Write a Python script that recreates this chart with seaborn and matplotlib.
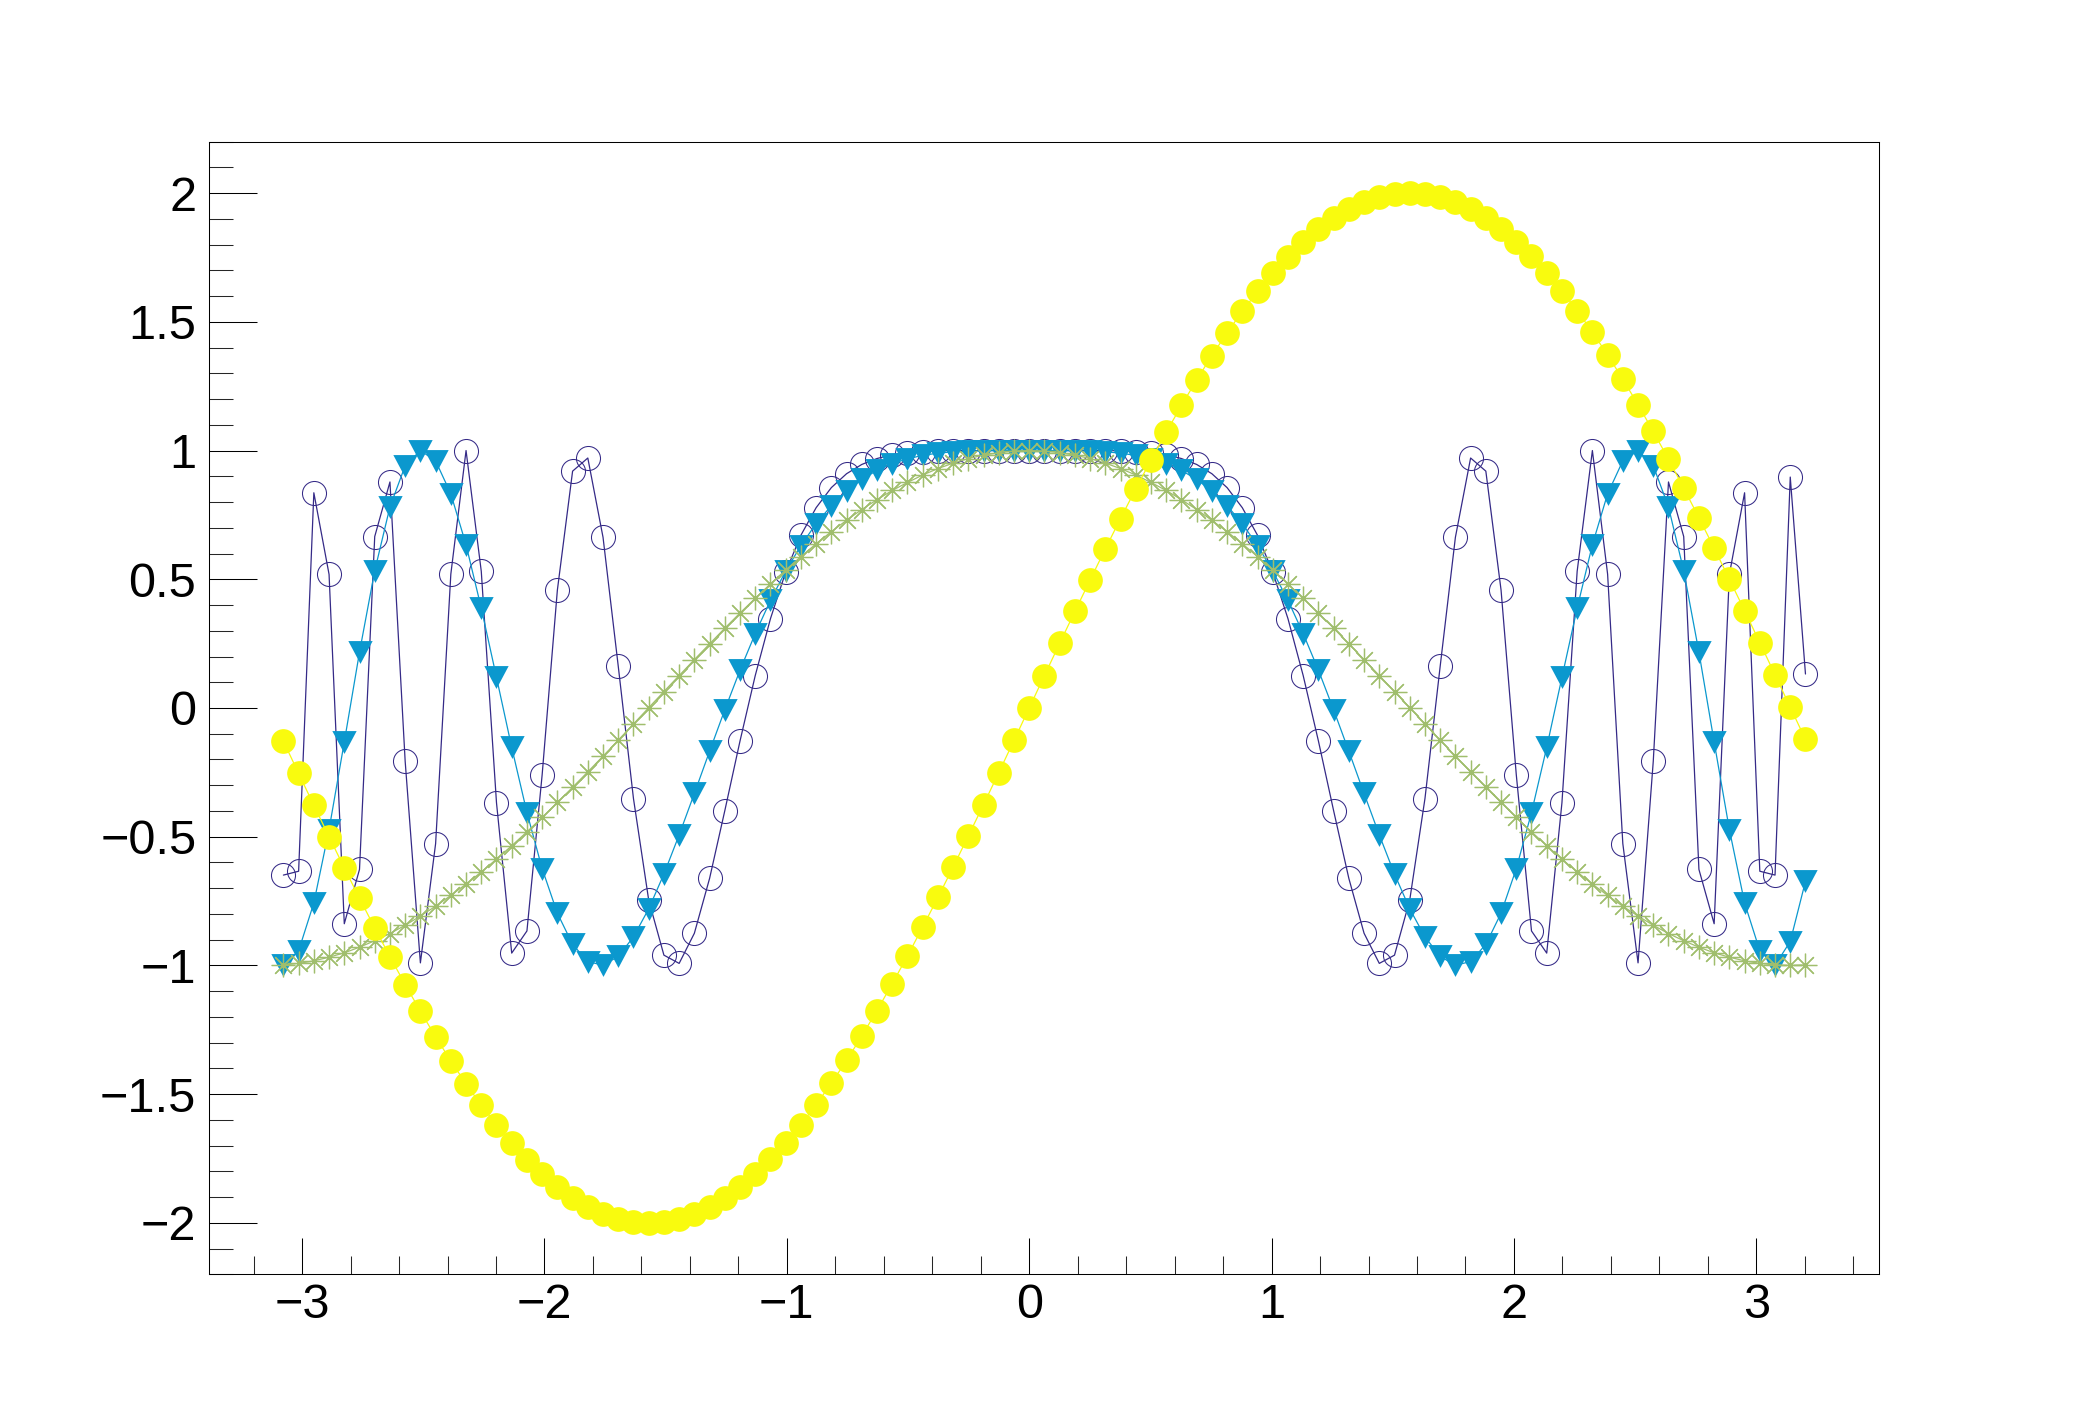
import matplotlib
matplotlib.use("Agg")
import matplotlib.pyplot as plt
from matplotlib.ticker import MultipleLocator, FuncFormatter
import seaborn as sns

# x positions of the 101 points
x_vals = [
    -3.0772, -3.0144, -2.9516, -2.8888, -2.8260, -2.7632, -2.7004, -2.6376, -2.5748, -2.5120,
    -2.4492, -2.3864, -2.3236, -2.2608, -2.1980, -2.1352, -2.0724, -2.0096, -1.9468, -1.8840,
    -1.8212, -1.7584, -1.6956, -1.6328, -1.5700, -1.5072, -1.4444, -1.3816, -1.3188, -1.2560,
    -1.1932, -1.1304, -1.0676, -1.0048, -0.9420, -0.8792, -0.8164, -0.7536, -0.6908, -0.6280,
    -0.5652, -0.5024, -0.4396, -0.3768, -0.3140, -0.2512, -0.1884, -0.1256, -0.0628,
    0.0,
    0.0628, 0.1256, 0.1884, 0.2512, 0.3140, 0.3768, 0.4396, 0.5024, 0.5652, 0.6280,
    0.6908, 0.7536, 0.8164, 0.8792, 0.9420, 1.0048, 1.0676, 1.1304, 1.1932, 1.2560,
    1.3188, 1.3816, 1.4444, 1.5072, 1.5700, 1.6328, 1.6956, 1.7584, 1.8212, 1.8840,
    1.9468, 2.0096, 2.0724, 2.1352, 2.1980, 2.2608, 2.3236, 2.3864, 2.4492, 2.5120,
    2.5748, 2.6376, 2.7004, 2.7632, 2.8260, 2.8888, 2.9516, 3.0144, 3.0772, 3.1400,
    3.2028,
]

# yellow dots
yellow_vals = [
    -0.129, -0.254, -0.378, -0.500, -0.621, -0.739, -0.854, -0.966, -1.074, -1.178,
    -1.277, -1.371, -1.460, -1.543, -1.619, -1.690, -1.754, -1.811, -1.860, -1.903,
    -1.938, -1.965, -1.984, -1.996, -2.000, -1.996, -1.984, -1.964, -1.937, -1.902,
    -1.859, -1.809, -1.752, -1.688, -1.618, -1.541, -1.457, -1.369, -1.274, -1.175,
    -1.071, -0.963, -0.851, -0.736, -0.618, -0.497, -0.375, -0.251, -0.126,
    0.000,
    0.126, 0.251, 0.375, 0.497, 0.618, 0.736, 0.851, 0.963, 1.071, 1.175,
    1.274, 1.369, 1.457, 1.541, 1.618, 1.688, 1.752, 1.809, 1.859, 1.902,
    1.937, 1.964, 1.984, 1.996, 2.000, 1.996, 1.984, 1.965, 1.938, 1.903,
    1.860, 1.811, 1.754, 1.690, 1.619, 1.543, 1.460, 1.371, 1.277, 1.178,
    1.074, 0.966, 0.854, 0.739, 0.621, 0.500, 0.378, 0.254, 0.129, 0.003,
    -0.122,
]

# green stars
green_vals = [
    -0.998, -0.992, -0.982, -0.968, -0.951, -0.929, -0.904, -0.876, -0.844, -0.808,
    -0.770, -0.728, -0.684, -0.637, -0.587, -0.535, -0.481, -0.425, -0.367, -0.308,
    -0.248, -0.187, -0.125, -0.062, 0.001, 0.064, 0.126, 0.188, 0.249, 0.310,
    0.369, 0.426, 0.482, 0.536, 0.588, 0.638, 0.685, 0.729, 0.771, 0.809,
    0.845, 0.876, 0.905, 0.930, 0.951, 0.969, 0.982, 0.992, 0.998,
    1.000,
    0.998, 0.992, 0.982, 0.969, 0.951, 0.930, 0.905, 0.876, 0.845, 0.809,
    0.771, 0.729, 0.685, 0.638, 0.588, 0.536, 0.482, 0.426, 0.369, 0.310,
    0.249, 0.188, 0.126, 0.064, 0.001, -0.062, -0.125, -0.187, -0.248, -0.308,
    -0.367, -0.425, -0.481, -0.535, -0.587, -0.637, -0.684, -0.728, -0.770, -0.808,
    -0.844, -0.876, -0.904, -0.929, -0.951, -0.968, -0.982, -0.992, -0.998, -1.000,
    -0.998,
]

# blue triangles
blue_vals = [
    -0.999, -0.943, -0.757, -0.472, -0.132, 0.217, 0.533, 0.781, 0.941, 1.000,
    0.960, 0.832, 0.634, 0.388, 0.119, -0.153, -0.406, -0.624, -0.797, -0.918,
    -0.985, -0.999, -0.965, -0.889, -0.780, -0.645, -0.493, -0.332, -0.168, -0.007,
    0.147, 0.289, 0.418, 0.532, 0.631, 0.716, 0.786, 0.843, 0.888, 0.923,
    0.949, 0.968, 0.981, 0.990, 0.995, 0.998, 0.999, 1.000, 1.000,
    1.000,
    1.000, 1.000, 0.999, 0.998, 0.995, 0.990, 0.981, 0.968, 0.949, 0.923,
    0.888, 0.843, 0.786, 0.716, 0.631, 0.532, 0.418, 0.289, 0.147, -0.007,
    -0.168, -0.332, -0.493, -0.645, -0.780, -0.889, -0.965, -0.999, -0.985, -0.918,
    -0.797, -0.624, -0.406, -0.153, 0.119, 0.388, 0.634, 0.832, 0.960, 1.000,
    0.941, 0.781, 0.533, 0.217, -0.132, -0.472, -0.757, -0.943, -0.999, -0.907,
    -0.673,
]

# purple open circles
purple_vals = [
    -0.649, -0.634, 0.836, 0.519, -0.838, -0.627, 0.666, 0.878, -0.207, -0.990,
    -0.527, 0.520, 1.000, 0.531, -0.368, -0.952, -0.866, -0.259, 0.458, 0.920,
    0.971, 0.663, 0.162, -0.352, -0.746, -0.960, -0.992, -0.875, -0.662, -0.399,
    -0.128, 0.126, 0.347, 0.528, 0.671, 0.778, 0.856, 0.910, 0.946, 0.969,
    0.984, 0.992, 0.996, 0.999, 1.000, 1.000, 1.000, 1.000, 1.000,
    1.000,
    1.000, 1.000, 1.000, 1.000, 1.000, 0.999, 0.996, 0.992, 0.984, 0.969,
    0.946, 0.910, 0.856, 0.778, 0.671, 0.528, 0.347, 0.126, -0.128, -0.399,
    -0.662, -0.875, -0.992, -0.960, -0.746, -0.352, 0.162, 0.663, 0.971, 0.920,
    0.458, -0.259, -0.866, -0.952, -0.368, 0.531, 1.000, 0.520, -0.527, -0.990,
    -0.207, 0.878, 0.666, -0.627, -0.838, 0.519, 0.836, -0.634, -0.649, 0.897,
    0.132,
]

sns.set_style("ticks")
plt.rcParams["font.family"] = ["Liberation Sans", "DejaVu Sans"]
plt.rcParams["axes.unicode_minus"] = True

fig = plt.figure(figsize=(20.88, 14.16), dpi=100)
ax = fig.add_axes([0.1, 0.1, 0.8, 0.8])

tri_down = [(-1, 0.94), (1, 0.94), (0, -0.94), (-1, 0.94)]

common = dict(ax=ax, sort=False, estimator=None, errorbar=None, legend=False, linewidth=0.9)

sns.lineplot(x=x_vals, y=purple_vals, color="#352A87", marker="o", markersize=17.3,
             markerfacecolor="none", markeredgecolor="#352A87", markeredgewidth=0.75, **common)
sns.lineplot(x=x_vals, y=blue_vals, color="#0B98CE", marker=tri_down, markersize=17.5,
             markerfacecolor="#0B98CE", markeredgecolor="#0B98CE", markeredgewidth=0, **common)
sns.lineplot(x=x_vals, y=green_vals, color="#A0BE6D", marker=(8, 2, 0), markersize=17,
             markeredgecolor="#A0BE6D", markeredgewidth=0.9, **common)
sns.lineplot(x=x_vals, y=yellow_vals, color="#F9FB0E", marker="o", markersize=17.8,
             markerfacecolor="#F9FB0E", markeredgecolor="#F9FB0E", markeredgewidth=0, **common)

ax.set_xlim(-3.385, 3.507)
ax.set_ylim(-2.2, 2.2)
ax.set_xlabel("")
ax.set_ylabel("")


def root_fmt(v, pos):
    if abs(v) < 1e-9:
        v = 0.0
    return f"{v:g}".replace("-", "\u2212")


ax.xaxis.set_major_locator(MultipleLocator(1))
ax.xaxis.set_minor_locator(MultipleLocator(0.2))
ax.yaxis.set_major_locator(MultipleLocator(0.5))
ax.yaxis.set_minor_locator(MultipleLocator(0.1))
ax.xaxis.set_major_formatter(FuncFormatter(root_fmt))
ax.yaxis.set_major_formatter(FuncFormatter(root_fmt))

ax.tick_params(axis="x", which="major", direction="in", length=26, width=0.75,
               top=False, labelsize=35, pad=6, colors="black")
ax.tick_params(axis="x", which="minor", direction="in", length=13, width=0.75, top=False)
ax.tick_params(axis="y", which="major", direction="in", length=34.6, width=0.75,
               right=False, labelsize=35, pad=9, colors="black")
ax.tick_params(axis="y", which="minor", direction="in", length=17.5, width=0.75, right=False)

for side in ["left", "right", "top", "bottom"]:
    ax.spines[side].set_visible(True)
    ax.spines[side].set_color("black")
    ax.spines[side].set_linewidth(0.75)
ax.grid(False)

fig.savefig("out.png", dpi=100, facecolor="white")
